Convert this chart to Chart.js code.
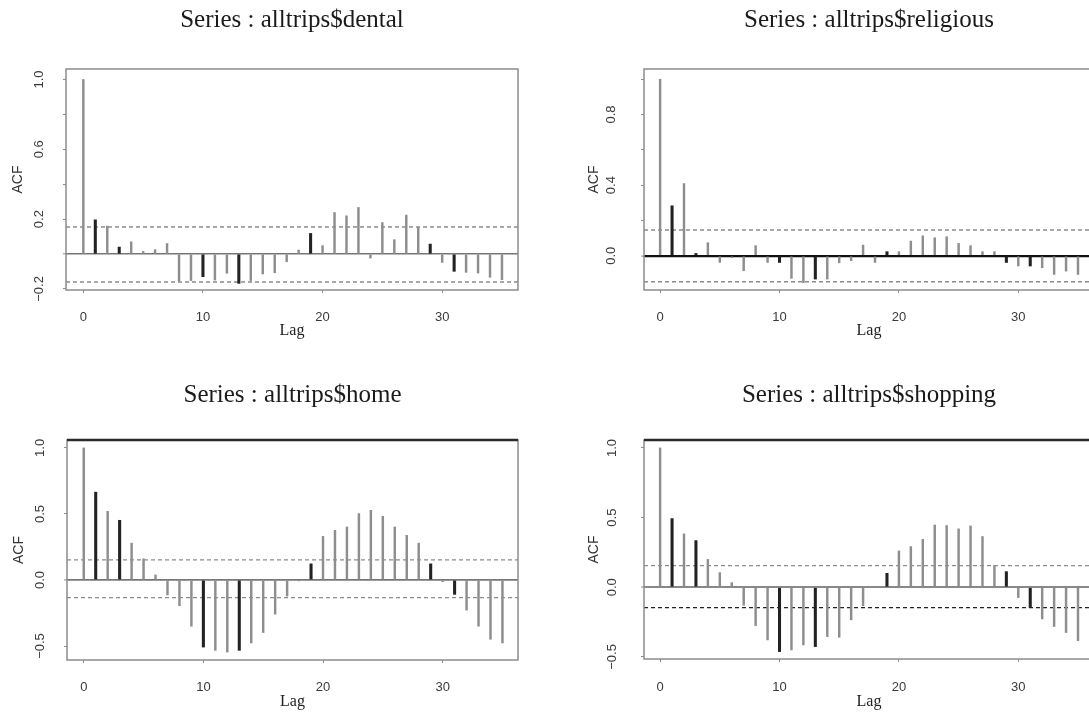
<!DOCTYPE html>
<html lang="en">
<head>
<meta charset="UTF-8">
<title>alltrips ACF</title>
<script src="https://cdn.jsdelivr.net/npm/chart.js"></script>
<style>
    html, body {
        margin: 0;
        padding: 0;
        background: #fff;
        overflow: hidden;
    }
    body {
        width: 1089px;
        height: 713px;
        position: relative;
    }
    .panel {
        position: absolute;
    }
</style>
</head>
<body>

<div class="panel"><canvas id="dental"></canvas></div>
<div class="panel"><canvas id="religious"></canvas></div>
<div class="panel"><canvas id="home"></canvas></div>
<div class="panel"><canvas id="shopping"></canvas></div>

<script>
// lags 0..35
const lags = [0, 1, 2, 3, 4, 5, 6, 7, 8, 9, 10, 11, 12, 13, 14, 15, 16, 17,
              18, 19, 20, 21, 22, 23, 24, 25, 26, 27, 28, 29, 30, 31, 32, 33, 34, 35];

// lags whose spike shows darker in the picture
const darkLags = [1, 3, 10, 13, 19, 29, 31];

const dentalAcf = [1.0, 0.196, 0.16, 0.04, 0.07, 0.015, 0.025, 0.06, -0.156, -0.152,
    -0.13, -0.149, -0.11, -0.168, -0.152, -0.114, -0.107, -0.044, 0.023, 0.118,
    0.048, 0.238, 0.219, 0.267, -0.023, 0.18, 0.082, 0.223, 0.152, 0.057,
    -0.048, -0.099, -0.105, -0.109, -0.133, -0.147];
const religiousAcf = [1.0, 0.283, 0.409, 0.013, 0.074, -0.038, -0.011, -0.085, 0.057, -0.038,
    -0.038, -0.128, -0.153, -0.132, -0.132, -0.04, -0.028, 0.06, -0.038, 0.023,
    0.023, 0.083, 0.113, 0.102, 0.108, 0.07, 0.057, 0.023, 0.023, -0.038,
    -0.058, -0.058, -0.068, -0.106, -0.087, -0.106];
const homeAcf = [1.0, 0.665, 0.52, 0.452, 0.279, 0.16, 0.038, -0.114, -0.195, -0.35,
    -0.508, -0.533, -0.546, -0.533, -0.477, -0.398, -0.259, -0.122, -0.005, 0.122,
    0.33, 0.376, 0.401, 0.503, 0.528, 0.482, 0.401, 0.338, 0.279, 0.122,
    -0.013, -0.109, -0.228, -0.35, -0.449, -0.477];
const shoppingAcf = [1.0, 0.493, 0.383, 0.335, 0.2, 0.105, 0.033, -0.129, -0.275, -0.378,
    -0.462, -0.45, -0.414, -0.426, -0.354, -0.359, -0.234, -0.132, 0.005, 0.1,
    0.261, 0.292, 0.344, 0.447, 0.443, 0.419, 0.44, 0.364, 0.156, 0.112,
    -0.074, -0.146, -0.227, -0.282, -0.325, -0.383];

// confidence bands [upper, lower]
const dentalCi = [0.155, -0.16];
const religiousCi = [0.146, -0.147];
const homeCi = [0.152, -0.134];
const shoppingCi = [0.155, -0.146];

// tick labels
const xTickLabels = ['0', '10', '20', '30'];
const dentalTicks = ['1.0', '0.6', '0.2', '\u22120.2'];
const religiousTicks = ['0.8', '0.4', '0.0'];
const homeTicks = ['1.0', '0.5', '0.0', '\u22120.5'];
const shoppingTicks = ['1.0', '0.5', '0.0', '\u22120.5'];

const TITLE_SIZE = 25, TICK_SIZE = 13, LAG_SIZE = 16, ACF_SIZE = 14, TICK_LEN = 3;
const GREY = '#8c8c8c';

const panels = [
    { id: 'dental', title: 'Series : alltrips$dental', acf: dentalAcf, ci: dentalCi, yTicks: dentalTicks,
      yMin: -0.206, yMax: 1.06, yStep: 0.2, xMin: -1.45, xMax: 36.34,
      box: { left: 0, top: 0, width: 560, height: 345 }, area: { l: 66, t: 69, r: 518, b: 290 },
      titleY: 20, xLabelY: 317, lagY: 331, yLabelX: 39, acfX: 18,
      zeroColor: '#777', zeroW: 1.5, ciColors: [GREY, GREY], topEdge: null },
    { id: 'religious', title: 'Series : alltrips$religious', acf: religiousAcf, ci: religiousCi, yTicks: religiousTicks,
      yMin: -0.194, yMax: 1.058, yStep: 0.2, xMin: -1.35, xMax: 36.34,
      box: { left: 560, top: 0, width: 640, height: 345 }, area: { l: 644, t: 69, r: 1094, b: 290 },
      titleY: 20, xLabelY: 317, lagY: 331, yLabelX: 611, acfX: 594,
      zeroColor: '#111', zeroW: 2.2, ciColors: [GREY, GREY], topEdge: null },
    { id: 'home', title: 'Series : alltrips$home', acf: homeAcf, ci: homeCi, yTicks: homeTicks,
      yMin: -0.606, yMax: 1.06, yStep: 0.5, xMin: -1.4, xMax: 36.3,
      box: { left: 0, top: 370, width: 560, height: 343 }, area: { l: 67, t: 440, r: 518, b: 660 },
      titleY: 395, xLabelY: 687, lagY: 702, yLabelX: 40, acfX: 19,
      zeroColor: '#777', zeroW: 1.8, ciColors: [GREY, GREY], topEdge: '#2a2a2a' },
    { id: 'shopping', title: 'Series : alltrips$shopping', acf: shoppingAcf, ci: shoppingCi, yTicks: shoppingTicks,
      yMin: -0.515, yMax: 1.057, yStep: 0.5, xMin: -1.35, xMax: 36.34,
      box: { left: 560, top: 370, width: 640, height: 343 }, area: { l: 644, t: 440, r: 1094, b: 659 },
      titleY: 395, xLabelY: 687, lagY: 702, yLabelX: 612, acfX: 594,
      zeroColor: '#888', zeroW: 2, ciColors: [GREY, '#222'], topEdge: '#2a2a2a' }
];

// box round the plot region
const framePlugin = {
    id: 'frame',
    afterDatasetsDraw(chart, args, opts) {
        const { left, top, right, bottom } = chart.chartArea;
        const ctx = chart.ctx;
        ctx.save();
        ctx.strokeStyle = GREY;
        ctx.lineWidth = 1.5;
        ctx.strokeRect(left, top, right - left, bottom - top);
        if (opts.topEdge) {
            ctx.strokeStyle = opts.topEdge;
            ctx.lineWidth = 2.5;
            ctx.beginPath();
            ctx.moveTo(left, top);
            ctx.lineTo(right, top);
            ctx.stroke();
        }
        ctx.restore();
    }
};

const measureCtx = document.createElement('canvas').getContext('2d');
function textWidth(txt, size) {
    measureCtx.font = size + 'px "Liberation Sans"';
    return measureCtx.measureText(txt).width;
}

function fmt(v) {
    if (Math.abs(v) < 1e-9) v = 0;
    return v.toFixed(1).replace('-', '\u2212');
}

function buildChart(p) {
    const canvas = document.getElementById(p.id);
    const wrap = canvas.parentNode;
    wrap.style.left = p.box.left + 'px';
    wrap.style.top = p.box.top + 'px';
    wrap.style.width = p.box.width + 'px';
    wrap.style.height = p.box.height + 'px';

    const titleLH = TITLE_SIZE * 1.2;
    const titlePadTop = p.titleY - p.box.top - titleLH / 2;
    const titlePadBottom = p.area.t - p.box.top - titlePadTop - titleLH;
    const xAxisH = p.lagY + LAG_SIZE * 1.2 / 2 - p.area.b;
    const padBottom = p.box.height - (p.area.b - p.box.top) - xAxisH;
    const padRight = p.box.width - (p.area.r - p.box.left);
    const yAxisW = p.area.l - p.box.left;
    const xTickPad = p.xLabelY - p.area.b - TICK_LEN - TICK_SIZE * 1.2 / 2;
    const widest = Math.max(...p.yTicks.map(t => textWidth(t, TICK_SIZE)));
    const yTickPad = p.area.l - p.yLabelX - TICK_LEN - widest / 2;
    const acfPad = p.acfX - p.box.left - ACF_SIZE * 1.2 / 2;

    const points = p.acf.map((v, i) => ({ x: lags[i], y: v }));
    const light = points.filter(d => !darkLags.includes(d.x));
    const dark = points.filter(d => darkLags.includes(d.x));

    return new Chart(canvas, {
        type: 'bar',
        data: {
            datasets: [
                { type: 'bar', data: light, backgroundColor: '#8e8e8e', barThickness: 1.8, grouped: false, order: 1 },
                { type: 'bar', data: dark, backgroundColor: '#222', barThickness: 2.4, grouped: false, order: 0 },
                { type: 'line', data: [{ x: p.xMin, y: p.ci[0] }, { x: p.xMax, y: p.ci[0] }],
                  borderColor: p.ciColors[0], borderWidth: 1.4, borderDash: [4, 3], pointRadius: 0, order: 2 },
                { type: 'line', data: [{ x: p.xMin, y: p.ci[1] }, { x: p.xMax, y: p.ci[1] }],
                  borderColor: p.ciColors[1], borderWidth: 1.4, borderDash: [4, 3], pointRadius: 0, order: 2 }
            ]
        },
        options: {
            responsive: true,
            maintainAspectRatio: false,
            animation: false,
            layout: { padding: { left: 0, top: 0, right: padRight, bottom: padBottom } },
            plugins: {
                legend: { display: false },
                tooltip: { enabled: false },
                title: {
                    display: true,
                    text: p.title,
                    fullSize: false,
                    color: '#1a1a1a',
                    font: { family: '"Liberation Serif", serif', size: TITLE_SIZE, weight: 'normal' },
                    padding: { top: titlePadTop, bottom: titlePadBottom }
                },
                frame: { topEdge: p.topEdge }
            },
            scales: {
                x: {
                    type: 'linear',
                    min: p.xMin,
                    max: p.xMax,
                    offset: false,
                    border: { display: false },
                    grid: { drawOnChartArea: false, drawTicks: true, tickLength: TICK_LEN, tickColor: GREY, offset: false },
                    ticks: {
                        stepSize: 10,
                        includeBounds: false,
                        maxRotation: 0,
                        padding: xTickPad,
                        color: '#3a3a3a',
                        font: { family: '"Liberation Sans", sans-serif', size: TICK_SIZE },
                        callback: v => xTickLabels.includes(String(v)) ? String(v) : ''
                    },
                    title: {
                        display: true,
                        text: 'Lag',
                        color: '#222',
                        padding: 0,
                        font: { family: '"Liberation Serif", serif', size: LAG_SIZE }
                    },
                    afterFit: s => { s.height = xAxisH; }
                },
                y: {
                    type: 'linear',
                    min: p.yMin,
                    max: p.yMax,
                    border: { display: false },
                    grid: {
                        drawOnChartArea: true,
                        drawTicks: true,
                        tickLength: TICK_LEN,
                        tickColor: GREY,
                        tickWidth: 1,
                        color: c => (c.tick && Math.abs(c.tick.value) < 1e-9) ? p.zeroColor : 'rgba(0,0,0,0)',
                        lineWidth: c => (c.tick && Math.abs(c.tick.value) < 1e-9) ? p.zeroW : 1
                    },
                    ticks: {
                        stepSize: p.yStep,
                        includeBounds: false,
                        minRotation: 90,
                        maxRotation: 90,
                        crossAlign: 'center',
                        padding: yTickPad,
                        color: '#3a3a3a',
                        font: { family: '"Liberation Sans", sans-serif', size: TICK_SIZE },
                        callback: v => p.yTicks.includes(fmt(v)) ? fmt(v) : ''
                    },
                    title: {
                        display: true,
                        text: 'ACF',
                        color: '#333',
                        padding: { top: acfPad, bottom: 0 },
                        font: { family: '"Liberation Sans", sans-serif', size: ACF_SIZE }
                    },
                    afterFit: s => { s.width = yAxisW; }
                }
            }
        },
        plugins: [framePlugin]
    });
}

panels.forEach(buildChart);
</script>
</body>
</html>
